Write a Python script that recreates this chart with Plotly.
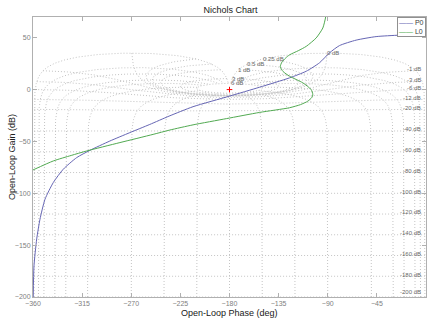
import numpy as np
import plotly.graph_objects as go

# ---- Data: open-loop phase (deg) and gain (dB) ----
P0_PHASE = [-359.8, -359.1, -356.6, -353.6, -349.0, -341.4, -332.3, -320.0, -307.9,
            -289.6, -271.3, -253.0, -235.4, -213.4, -180.0, -152.4, -125.0, -109.7,
            -97.6, -88.4, -79.3, -64.0, -45.7, -24.4, -0.5]
P0_GAIN = [-200.0, -170.0, -144.0, -125.0, -105.7, -89.6, -76.8, -65.6, -58.6,
           -49.6, -41.5, -33.6, -25.6, -16.5, -6.3, 2.3, 11.3, 17.7,
           25.8, 35.4, 42.4, 47.7, 51.1, 52.5, 53.5]

L0_PHASE = [-360.0, -341.4, -325.0, -310.9, -280.4, -250.0, -234.7, -213.4, -182.9,
            -152.4, -125.0, -115.0, -108.3, -104.5, -103.7, -105.2, -112.8, -125.0,
            -131.0, -133.5, -132.0, -128.5, -125.0, -117.0, -109.7, -100.6, -94.5,
            -92.1, -91.7]
L0_GAIN = [-77.5, -68.8, -63.5, -59.2, -51.1, -43.2, -39.0, -34.0, -28.0,
           -22.0, -17.5, -14.5, -11.2, -7.5, -4.5, 0.0, 6.5, 12.9,
           17.5, 22.0, 26.5, 30.5, 33.5, 37.5, 41.7, 49.8, 59.4,
           69.0, 72.0]

SERIES = [("P0", P0_PHASE, P0_GAIN, "#6666b4"),
          ("L0", L0_PHASE, L0_GAIN, "#52aa52")]

CRITICAL_POINT = ([-180.0], [0.0])

# ---- Nichols grid levels ----
M_DB = [6, 3, 1, 0.5, 0.25, 0, -1, -3, -6, -12, -20, -40, -60, -80, -100,
        -120, -140, -160, -180, -200]
N_DEG = [-1, -5, -10, -20, -30, -50, -90, -120, -150, -180, -210, -240, -270,
         -310, -330, -340, -350, -355, -359]
X_TICKS = [-360, -315, -270, -225, -180, -135, -90, -45, 0]
Y_TICKS = [50, 0, -50, -100, -150, -200]

GRID_COLOR = "#c4c4c4"
LABEL_COLOR = "#6a6a6a"


def open_loop(m_db, theta_deg):
    m = 10 ** (np.asarray(m_db, dtype=float) / 20.0)
    th = np.radians(theta_deg)
    t = m * np.exp(1j * th)
    one_minus = 1 - t
    gain = 20 * np.log10(np.abs(t) / np.abs(one_minus))
    phase = np.asarray(theta_deg, dtype=float) - np.degrees(np.angle(one_minus))
    return phase, gain


# M-contours (constant closed-loop gain)
theta = np.linspace(-359, -1, 1433)
mx, my = [], []
for m in M_DB:
    ph, g = open_loop(np.full_like(theta, m), theta)
    mx.extend(ph.tolist() + [None])
    my.extend(g.tolist() + [None])

# N-contours (constant closed-loop phase)
mvals = np.concatenate([np.linspace(-200, -20, 200), np.linspace(-20, 6, 3000)])
nx, ny = [], []
for p in N_DEG:
    ph, g = open_loop(mvals, np.full_like(mvals, p))
    nx.extend(ph.tolist() + [None])
    ny.extend(g.tolist() + [None])

fig = go.Figure()
fig.add_trace(go.Scatter(x=mx, y=my, mode="lines", showlegend=False, hoverinfo="skip",
                         line=dict(color=GRID_COLOR, width=1, dash="1px,2px")))
fig.add_trace(go.Scatter(x=nx, y=ny, mode="lines", showlegend=False, hoverinfo="skip",
                         line=dict(color=GRID_COLOR, width=1, dash="1px,2px")))
fig.add_trace(go.Scatter(x=CRITICAL_POINT[0], y=CRITICAL_POINT[1], mode="markers",
                         showlegend=False, hoverinfo="skip",
                         marker=dict(symbol="cross-thin", size=4, color="red",
                                     line=dict(color="red", width=1))))
for name, xs, ys, col in SERIES:
    fig.add_trace(go.Scatter(x=xs, y=ys, mode="lines", name=name, showlegend=False,
                             hoverinfo="skip",
                             line=dict(color=col, width=1, shape="spline", smoothing=0.6)))

# Grid labels at closed-loop phase -1 deg
annotations = []
for m in M_DB:
    ph, g = open_loop(np.array([m]), np.array([-1.0]))
    txt = f"{m:g} dB"
    if m >= 0:
        annotations.append(dict(x=float(ph[0]), y=float(g[0]), text=txt, showarrow=False,
                                xanchor="left", yanchor="middle", xshift=-2,
                                font=dict(size=6, color=LABEL_COLOR)))
    else:
        annotations.append(dict(x=-3, y=max(float(g[0]) + 1.5, -195.5), text=txt,
                                showarrow=False, xanchor="right", yanchor="middle",
                                font=dict(size=6, color=LABEL_COLOR)))

# compact legend box built from the series names/colours
legend_text = "<br>".join(
    f"<span style='color:{col}'>\u2014\u2014</span> <span style='color:#404040'>{name}</span>"
    for name, _, _, col in SERIES)
annotations.append(dict(text=legend_text, xref="paper", yref="paper", x=1, y=1,
                        xanchor="right", yanchor="top", showarrow=False, align="left",
                        bgcolor="white", bordercolor="#909090", borderwidth=1, borderpad=1,
                        font=dict(size=7)))

annotations.append(dict(text="Open-Loop Phase (deg)", xref="paper", yref="paper",
                        x=0.5, y=0, yshift=-16, showarrow=False, yanchor="middle",
                        font=dict(size=9, color="#202020")))
annotations.append(dict(text="Open-Loop Gain (dB)", xref="paper", yref="paper",
                        x=0, y=0.5, xshift=-21, showarrow=False, xanchor="center",
                        textangle=-90, font=dict(size=9, color="#202020")))

axis_common = dict(showgrid=False, zeroline=False, showline=True, linecolor="#b0b0b0",
                   linewidth=1, mirror="ticks", ticks="inside", ticklen=4,
                   tickcolor="#b0b0b0", tickfont=dict(size=7, color="#808080"))

fig.update_layout(
    width=427, height=320,
    margin=dict(l=33, r=1, t=17, b=23),
    paper_bgcolor="white", plot_bgcolor="white",
    font=dict(family="Liberation Sans, Arial, sans-serif"),
    showlegend=False,
    hovermode=False,
    title=dict(text="Nichols Chart", x=0.54, xanchor="center", y=1 - 10 / 320,
               yanchor="middle", font=dict(size=9, color="#202020")),
    xaxis=dict(range=[-360, 0], tickvals=X_TICKS, **axis_common),
    yaxis=dict(range=[-200, 70], tickvals=Y_TICKS, **axis_common),
    annotations=annotations,
)

fig.write_html("out.html", config={"displayModeBar": False},
               post_script="document.body.style.margin='0';")
